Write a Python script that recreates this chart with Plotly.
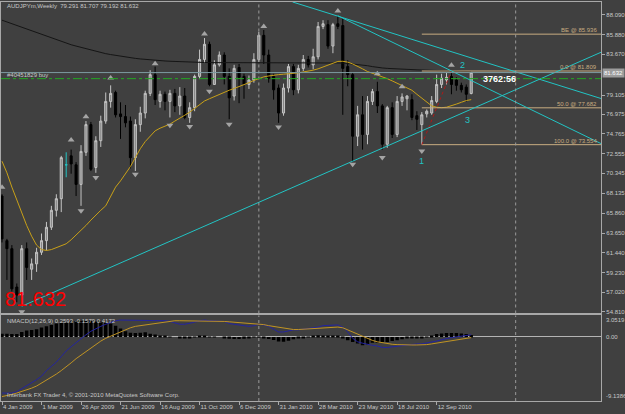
import plotly.graph_objects as go

W, H = 625, 414

# ---------------- data (weekly bars, index 0 = week of 4 Jan 2009) ----------------
opens = [67.8, 62.8, 61.9, 57.6, 56.7, 61.9, 59.6, 60.2, 61.5, 62.8,
         64.3, 66.2, 67.5, 71.3, 72.3, 71.3, 69.1, 72.7, 75.8, 71.0,
         74.0, 76.2, 78.4, 79.4, 77.0, 76.7, 76.2, 72.1, 75.8, 77.1,
         79.3, 81.4, 78.4, 79.2, 78.4, 79.3, 77.9, 79.0, 76.6, 77.7,
         81.2, 83.1, 84.8, 80.3, 82.5, 83.6, 81.2, 79.0, 82.2, 81.2,
         80.3, 80.8, 83.1, 85.8, 83.6, 81.2, 79.9, 77.1, 79.9, 82.3,
         79.7, 82.1, 83.1, 82.5, 83.4, 86.8, 87.0, 84.6, 87.1, 86.9,
         82.3, 81.4, 74.5, 76.9, 74.7, 78.4, 79.5, 77.9, 73.6, 77.7,
         74.7, 78.4, 78.7, 78.6, 76.8, 75.8, 77.0, 77.1, 78.4, 80.3,
         80.8, 81.2, 80.8, 80.2, 80.0, 79.291]
highs = [68.0, 63.0, 62.3, 58.0, 62.3, 62.6, 60.8, 62.0, 63.6, 64.9,
         66.7, 68.0, 72.3, 72.7, 73.0, 71.6, 73.5, 76.2, 76.1, 74.5,
         76.8, 79.4, 80.2, 79.6, 78.3, 78.0, 76.7, 76.4, 77.8, 79.6,
         81.9, 82.3, 79.6, 79.5, 79.7, 79.8, 80.0, 79.9, 78.3, 81.4,
         84.2, 85.5, 85.1, 83.0, 84.0, 83.9, 82.1, 82.5, 82.6, 81.5,
         81.3, 83.8, 86.2, 86.4, 84.2, 81.5, 80.3, 80.4, 82.6, 82.6,
         82.5, 83.6, 83.5, 84.3, 87.3, 87.5, 87.5, 87.2, 87.95, 87.7,
         83.0, 81.6, 77.9, 79.0, 79.0, 79.8, 80.6, 78.1, 77.9, 78.3,
         79.0, 79.3, 79.1, 79.2, 77.3, 77.2, 77.5, 79.0, 81.4, 81.5,
         81.6, 81.809, 81.1, 80.5, 80.3, 81.707]
lows = [62.6, 58.4, 57.1, 55.9, 55.6, 58.4, 58.4, 59.3, 61.2, 61.7,
        64.0, 65.5, 66.0, 69.9, 70.3, 67.8, 66.7, 72.3, 70.6, 70.4,
        73.3, 75.9, 77.7, 76.6, 74.2, 75.5, 70.9, 70.6, 75.0, 76.5,
        79.0, 78.0, 77.7, 77.4, 76.6, 77.2, 76.9, 76.4, 76.0, 77.3,
        80.9, 82.7, 80.1, 80.25, 82.3, 80.3, 76.4, 78.5, 78.2, 78.7,
        79.8, 80.5, 82.8, 82.6, 80.5, 78.6, 76.0, 76.8, 79.4, 79.1,
        79.3, 81.8, 82.2, 82.0, 83.1, 86.5, 84.3, 83.8, 86.5, 76.9,
        80.1, 71.6, 73.4, 73.0, 73.6, 78.0, 77.1, 73.0, 73.2, 74.3,
        74.4, 77.9, 77.4, 76.3, 75.2, 73.554, 76.6, 76.9, 78.2, 79.9,
        80.3, 79.2, 79.6, 79.4, 78.4, 79.192]
closes = [63.0, 61.9, 57.4, 56.7, 61.9, 59.8, 60.2, 61.5, 62.8, 64.3,
          66.2, 67.5, 72.1, 71.3, 71.4, 69.1, 72.8, 75.8, 70.8, 74.0,
          76.2, 78.4, 79.3, 76.9, 76.7, 76.0, 72.1, 75.8, 77.1, 79.3,
          81.4, 78.6, 79.2, 78.4, 79.3, 77.9, 79.0, 76.6, 77.7, 81.2,
          83.1, 84.8, 80.3, 82.5, 83.6, 81.2, 78.8, 82.1, 81.1, 80.3,
          80.8, 83.1, 85.8, 83.6, 81.0, 79.7, 77.1, 79.9, 82.3, 79.7,
          82.1, 83.1, 82.5, 83.4, 86.8, 87.1, 84.6, 87.0, 86.8, 82.1,
          81.4, 74.5, 76.9, 74.7, 78.4, 79.5, 77.9, 73.6, 77.7, 74.7,
          78.4, 78.9, 79.0, 76.6, 76.4, 76.9, 77.3, 78.5, 80.3, 81.0,
          81.1, 80.3, 80.2, 79.7, 79.2, 81.632]
highlight_bar = [13]   # bar drawn in cyan on the reference

ma_long = [87.5, 87.3, 87.1, 86.9, 86.7, 86.5, 86.3, 86.1, 85.9, 85.7,
           85.5, 85.3, 85.1, 84.9, 84.75, 84.6, 84.45, 84.3, 84.15, 84.0,
           83.85, 83.75, 83.65, 83.55, 83.45, 83.35, 83.28, 83.22, 83.16, 83.1,
           83.05, 83.0, 82.96, 82.93, 82.9, 82.87, 82.84, 82.82, 82.8, 82.78,
           82.77, 82.76, 82.75, 82.75, 82.74, 82.74, 82.73, 82.73, 82.72, 82.72,
           82.71, 82.71, 82.71, 82.70, 82.70, 82.70, 82.70, 82.70, 82.70, 82.70,
           82.70, 82.70, 82.72, 82.74, 82.76, 82.78, 82.78, 82.77, 82.74, 82.70,
           82.65, 82.6, 82.55, 82.48, 82.4, 82.3, 82.2, 82.15, 82.1, 82.06,
           82.03, 82.0, 81.98, 81.96, 81.94, 81.92, 81.9, 81.88, 81.86, 81.84,
           81.82, 81.8, 81.79, 81.77, 81.75, 81.73]
ma_short = [71.7, 70.4, 68.8, 67.3, 65.9, 64.5, 63.3, 62.3, 61.8, 61.7,
            61.8, 62.0, 62.2, 62.45, 62.9, 63.4, 63.9, 64.5, 65.1, 65.7,
            66.2, 66.7, 67.7, 68.8, 69.5, 70.3, 71.1, 72.1, 73.1, 73.9,
            74.5, 75.1, 75.4, 75.6, 75.85, 76.2, 76.5, 76.85, 77.2, 77.6,
            78.0, 78.45, 78.7, 78.95, 79.2, 79.45, 79.65, 79.85, 80.05, 80.3,
            80.5, 80.75, 80.95, 81.15, 81.25, 81.35, 81.4, 81.45, 81.5, 81.5,
            81.6, 81.7, 81.77, 81.9, 82.05, 82.25, 82.5, 82.7, 82.88, 82.9,
            82.8, 82.6, 82.35, 82.05, 81.75, 81.55, 81.4, 81.15, 80.95, 80.7,
            80.45, 80.2, 79.95, 79.65, 79.2, 78.75, 78.3, 77.9, 77.75, 77.7,
            77.75, 77.9, 78.1, 78.3, 78.5, 78.6]

frac_up_bar = [0, 14, 17, 22, 31, 41, 53, 68, 76, 81, 91]
frac_up_price = [68.77, 74.08, 76.68, 81.03, 82.63, 85.94, 86.79, 88.54, 81.51, 80.03, 82.44]
frac_dn_bar = [4, 16, 19, 27, 34, 38, 42, 46, 56, 71, 77, 85]
frac_dn_price = [54.83, 66.16, 69.88, 70.25, 75.72, 75.60, 79.54, 75.83, 75.53, 71.37, 72.11, 72.85]

macd_hist = [0.45, 0.45, 0.4, 0.4, 0.7, 0.9, 1.0, 1.1, 1.35, 1.5,
             1.7, 1.9, 2.0, 2.1, 2.2, 2.25, 2.3, 2.3, 2.3, 2.2,
             2.2, 2.1, 1.9, 1.6, 1.2, 0.8, 0.6, 0.55, 0.6, 0.65,
             0.45, 0.35, 0.2, 0.1, 0.05, 0.0, -0.2, -0.2, -0.15, 0.05,
             0.2, 0.1, 0.05, 0.05, 0.0, -0.2, -0.25, -0.3, -0.3, -0.25,
             -0.2, -0.05, 0.05, -0.1, -0.3, -0.45, -0.65, -0.7, -0.55, -0.35,
             -0.2, -0.1, 0.05, 0.2, 0.25, 0.2, 0.2, 0.2, 0.15, -0.1,
             -0.47, -0.71, -0.95, -1.18, -1.09, -0.85, -0.85, -0.71, -0.71, -0.6,
             -0.47, -0.33, -0.24, -0.24, -0.24, -0.14, -0.05, 0.2, 0.4, 0.5,
             0.55, 0.55, 0.55, 0.5, 0.4, 0.26]
macd_blue = [-8.0, -8.0, -8.0, -7.8, -7.4, -7.0, -6.6, -6.1, -5.6, -4.8,
             -4.2, -3.6, -2.8, -2.0, -1.4, -0.8, -0.3, 0.3, 0.8, 1.2,
             1.5, 1.8, 2.1, 2.3, 2.4, 2.4, 2.3, 2.3, 2.4, 2.4,
             2.35, 2.3, 2.3, 2.3, 2.2, 2.0, 1.8, 1.8, 1.9, 2.1,
             2.3, 2.4, 2.3, 2.3, 2.3, 2.2, 1.9, 1.8, 1.7, 1.5,
             1.5, 1.6, 1.8, 1.7, 1.5, 1.1, 0.7, 0.7, 0.9, 1.0,
             1.0, 1.1, 1.1, 1.2, 1.4, 1.6, 1.6, 1.7, 1.7, 1.4,
             0.7, -0.2, -0.7, -0.9, -1.1, -1.2, -1.3, -1.5, -1.5, -1.4,
             -1.3, -1.2, -1.1, -1.1, -1.0, -1.0, -0.9, -0.8, -0.6, -0.4,
             -0.2, -0.1, 0.0, 0.1, 0.2, 0.3]
macd_gold = [-8.5, -8.4, -8.2, -8.0, -7.8, -7.6, -7.3, -7.0, -6.6, -6.2,
             -5.8, -5.3, -4.8, -4.3, -3.7, -3.1, -2.6, -2.0, -1.5, -1.0,
             -0.6, -0.2, 0.1, 0.5, 0.8, 1.1, 1.3, 1.5, 1.6, 1.8,
             1.9, 2.0, 2.1, 2.2, 2.25, 2.3, 2.3, 2.3, 2.3, 2.3,
             2.3, 2.3, 2.3, 2.3, 2.25, 2.2, 2.15, 2.1, 2.0, 1.95,
             1.9, 1.85, 1.8, 1.75, 1.6, 1.5, 1.35, 1.2, 1.1, 1.05,
             1.05, 1.1, 1.15, 1.2, 1.25, 1.3, 1.35, 1.4, 1.4, 1.3,
             1.0, 0.6, 0.3, 0.0, -0.3, -0.5, -0.7, -0.85, -0.95, -1.05,
             -1.1, -1.15, -1.15, -1.15, -1.15, -1.15, -1.1, -1.0, -0.9, -0.8,
             -0.7, -0.55, -0.4, -0.3, -0.2, -0.1]

# trend lines (bar index, price)
uptrend_bar = [4, 121.3]
uptrend_price = [55.45, 83.91]
downA_bar = [58.83, 121.3]
downA_price = [89.54, 78.72]
downB_bar = [68, 121.3]
downB_price = [88.0, 73.67]

fib_anchor_bar = [85, 91]
fib_anchor_price = [73.554, 81.809]
fib_levels = [85.936, 81.809, 77.682, 73.554]
fib_labels = ["BE @ 85.936", "0.0 @ 81.809", "50.0 @ 77.682", "100.0 @ 73.554"]

bid_price = 81.632
order_price = 80.95
separator_bars = [52, 104]

price_ticks = [88.090, 85.880, 83.670, 79.105, 76.975, 74.765, 72.555, 70.345,
               68.135, 65.860, 63.650, 61.440, 59.230, 57.020, 54.810]
date_tick_bars = [0, 8, 16, 24, 32, 40, 48, 56, 64, 72, 80, 88]
date_tick_labels = ["4 Jan 2009", "1 Mar 2009", "26 Apr 2009", "21 Jun 2009", "16 Aug 2009",
                    "11 Oct 2009", "6 Dec 2009", "31 Jan 2010", "28 Mar 2010", "23 May 2010",
                    "18 Jul 2010", "12 Sep 2010"]
macd_top, macd_bottom = 3.0519, -9.1386
wave_labels = ["1", "2", "3"]
wave_bar = [85, 93.2, 94.2]
wave_price = [71.75, 82.43, 76.28]

# ---------------- styling / layout ----------------
BG = "#404040"
FG = "#c8c8c8"
FRAME = "#a8a8a8"
CYAN = "#22c4c4"
TAN = "#c8ac80"
FONT = "Liberation Sans"

n = len(closes)
bars = list(range(n))
xr = [-0.2015, 121.3]
yr = [54.641, 89.539]

def px_x(p):
    return p / W

def px_y(p):
    return 1 - p / H

fig = go.Figure()

normal = [i for i in bars if i not in highlight_bar]
fig.add_trace(go.Candlestick(
    x=normal, open=[opens[i] for i in normal], high=[highs[i] for i in normal],
    low=[lows[i] for i in normal], close=[closes[i] for i in normal],
    increasing=dict(line=dict(color="#c4c4c4", width=1), fillcolor="#858585"),
    decreasing=dict(line=dict(color="#000000", width=1), fillcolor="#000000"),
    whiskerwidth=0, xaxis="x", yaxis="y", hoverinfo="skip"))
fig.add_trace(go.Candlestick(
    x=highlight_bar, open=[opens[i] for i in highlight_bar], high=[highs[i] for i in highlight_bar],
    low=[lows[i] for i in highlight_bar], close=[closes[i] for i in highlight_bar],
    increasing=dict(line=dict(color=CYAN, width=1), fillcolor=CYAN),
    decreasing=dict(line=dict(color=CYAN, width=1), fillcolor=CYAN),
    whiskerwidth=0, xaxis="x", yaxis="y", hoverinfo="skip"))

# moving averages
fig.add_trace(go.Scatter(x=bars, y=ma_long, mode="lines", line=dict(color="#151515", width=1),
                         xaxis="x", yaxis="y", hoverinfo="skip"))
fig.add_trace(go.Scatter(x=bars, y=ma_short, mode="lines", line=dict(color="#c8a018", width=1),
                         xaxis="x", yaxis="y", hoverinfo="skip"))

# fib lines
for lvl in fib_levels:
    fig.add_trace(go.Scatter(x=[fib_anchor_bar[0], xr[1]], y=[lvl, lvl], mode="lines",
                             line=dict(color=TAN, width=1), xaxis="x", yaxis="y", hoverinfo="skip"))
fig.add_trace(go.Scatter(x=fib_anchor_bar, y=fib_anchor_price, mode="lines",
                         line=dict(color="#b01818", width=1, dash="dot"),
                         xaxis="x", yaxis="y", hoverinfo="skip"))

# trend lines
for bx, by in [(uptrend_bar, uptrend_price), (downA_bar, downA_price), (downB_bar, downB_price)]:
    fig.add_trace(go.Scatter(x=bx, y=by, mode="lines", line=dict(color=CYAN, width=1),
                             xaxis="x", yaxis="y", hoverinfo="skip"))

# fractals
fig.add_trace(go.Scatter(x=frac_up_bar, y=frac_up_price, mode="markers",
                         marker=dict(symbol="triangle-up", size=6, color="#a4a4a4"),
                         xaxis="x", yaxis="y", hoverinfo="skip"))
fig.add_trace(go.Scatter(x=frac_dn_bar, y=frac_dn_price, mode="markers",
                         marker=dict(symbol="triangle-down", size=6, color="#a4a4a4"),
                         xaxis="x", yaxis="y", hoverinfo="skip"))

# MACD window
fig.add_trace(go.Bar(x=bars, y=macd_hist, marker=dict(color="#000000", line=dict(width=0)),
                     width=0.7, xaxis="x2", yaxis="y2", hoverinfo="skip"))
fig.add_trace(go.Scatter(x=bars, y=macd_blue, mode="lines", line=dict(color="#2424a0", width=1),
                         xaxis="x2", yaxis="y2", hoverinfo="skip"))
fig.add_trace(go.Scatter(x=bars, y=macd_gold, mode="lines", line=dict(color="#c09424", width=1),
                         xaxis="x2", yaxis="y2", hoverinfo="skip"))

shapes = []
for sb in separator_bars:
    for xa, ya in [("x", "y domain"), ("x2", "y2 domain")]:
        shapes.append(dict(type="line", xref=xa, yref=ya, x0=sb, x1=sb, y0=0, y1=1,
                           line=dict(color="#9a9a9a", width=1, dash="dot")))
shapes.append(dict(type="line", xref="x domain", yref="y", x0=0, x1=1, y0=bid_price, y1=bid_price,
                   line=dict(color="#7c9aa0", width=1)))
shapes.append(dict(type="line", xref="x domain", yref="y", x0=0, x1=1, y0=order_price, y1=order_price,
                   line=dict(color="#22a822", width=1, dash="dashdot")))

ann = []
small = dict(family=FONT, size=6, color=FG)
ann.append(dict(xref="paper", yref="paper", x=px_x(4), y=px_y(1), xanchor="left", yanchor="top",
                text="AUDJPYm,Weekly  79.291 81.707 79.192 81.632", showarrow=False, font=small))
ann.append(dict(xref="paper", yref="y", x=px_x(4), y=order_price, xanchor="left", yanchor="bottom",
                text="#40451829 buy", showarrow=False, font=small, yshift=-1))
for lvl, lab in zip(fib_levels, fib_labels):
    ann.append(dict(xref="paper", yref="y", x=px_x(601), y=lvl, xanchor="right", yanchor="bottom",
                    text=lab, showarrow=False, font=dict(family=FONT, size=6, color=TAN), yshift=-1))
ann.append(dict(xref="paper", yref="y", x=px_x(604), y=bid_price, xanchor="left", yanchor="middle",
                text="81.632", showarrow=False, font=dict(family=FONT, size=6, color="#ffffff"),
                bgcolor="#9c9c9c", borderpad=1))
ann.append(dict(xref="paper", yref="y", x=px_x(501), y=80.9, xanchor="center", yanchor="middle",
                text="<b>3762:56</b>", showarrow=False, font=dict(family=FONT, size=9, color="#ffffff")))
for t, bx, by in zip(wave_labels, wave_bar, wave_price):
    ann.append(dict(xref="x", yref="y", x=bx, y=by, xanchor="center", yanchor="middle", text=t,
                    showarrow=False, font=dict(family=FONT, size=9, color=CYAN)))
ann.append(dict(xref="paper", yref="paper", x=px_x(2), y=px_y(300), xanchor="left", yanchor="middle",
                text=f"{closes[-1]:.3f}", showarrow=False, font=dict(family=FONT, size=20, color="#ff0000")))
ann.append(dict(xref="paper", yref="paper", x=px_x(4), y=px_y(318), xanchor="left", yanchor="top",
                text="NMACD(12,26,9) 0.2593 -0.1579 0.4172", showarrow=False, font=small))
ann.append(dict(xref="paper", yref="paper", x=px_x(4), y=px_y(402), xanchor="left", yanchor="bottom",
                text="Interbank FX Trader 4, © 2001-2010 MetaQuotes Software Corp.", showarrow=False, font=small))
ann.append(dict(xref="paper", yref="y2", x=px_x(606), y=macd_top, xanchor="left", yanchor="top",
                text=f"{macd_top:.4f}", showarrow=False, font=small))
ann.append(dict(xref="paper", yref="y2", x=px_x(606), y=0, xanchor="left", yanchor="middle",
                text="0.00", showarrow=False, font=small))
ann.append(dict(xref="paper", yref="y2", x=px_x(606), y=macd_bottom, xanchor="left", yanchor="bottom",
                text=f"{macd_bottom:.4f}", showarrow=False, font=small))

axis_common = dict(showgrid=False, zeroline=False, showline=True, linecolor=FRAME, linewidth=1,
                   mirror=True, fixedrange=True)
fig.update_layout(
    width=W, height=H, margin=dict(l=0, r=0, t=0, b=0),
    paper_bgcolor=BG, plot_bgcolor=BG, showlegend=False, hovermode=False,
    boxgap=0.4, bargap=0.3,
    xaxis=dict(domain=[0, 603 / W], range=xr, anchor="y", showticklabels=False,
               rangeslider=dict(visible=False), **axis_common),
    yaxis=dict(domain=[px_y(315), px_y(2)], range=yr, anchor="x", side="right",
               tickvals=price_ticks, ticktext=[f"{v:.3f}" for v in price_ticks],
               ticks="outside", ticklen=3, tickcolor=FRAME,
               tickfont=dict(family=FONT, size=6, color=FG), **axis_common),
    xaxis2=dict(domain=[0, 603 / W], range=xr, anchor="y2", matches="x",
                tickvals=date_tick_bars, ticktext=date_tick_labels, ticks="outside", ticklen=3,
                tickcolor=FRAME, ticklabelposition="outside right", tickangle=0,
                tickfont=dict(family=FONT, size=6, color=FG),
                rangeslider=dict(visible=False), **axis_common),
    yaxis2=dict(domain=[px_y(403), px_y(317)], range=[macd_bottom, macd_top], anchor="x2",
                side="right", showticklabels=False, **{k: v for k, v in axis_common.items() if k != "zeroline"},
                zeroline=True, zerolinecolor="#b4b4b4", zerolinewidth=1),
    shapes=shapes, annotations=ann,
)

fig.write_html("out.html")
